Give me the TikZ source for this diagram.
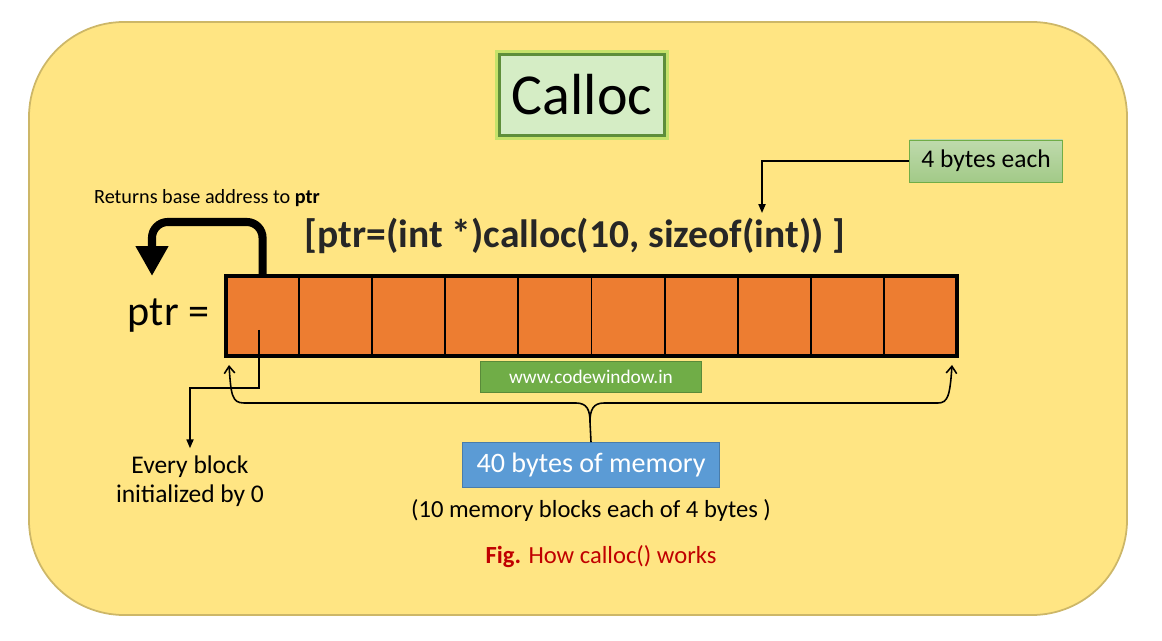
\documentclass[tikz,border=0pt]{standalone}
\usepackage{fontspec}
\setmainfont{Carlito}
\definecolor{memyellow}{HTML}{FFE583}
\definecolor{memedge}{HTML}{CDB768}
\definecolor{memorange}{HTML}{ED7D31}
\definecolor{memgreen}{HTML}{70AD47}
\definecolor{memblue}{HTML}{5B9BD5}
\definecolor{memred}{HTML}{C00000}
\definecolor{titlefill}{HTML}{D5EDC5}
\definecolor{titleedge}{HTML}{5E8E3A}
\definecolor{titleglow}{HTML}{C6E26A}
\definecolor{codegray}{HTML}{262626}
\usetikzlibrary{arrows.meta,positioning,calc}

\begin{document}
\begin{tikzpicture}[
  x=0.02cm, y=-0.02cm,
  panel/.style={draw=memedge, fill=memyellow, line width=1pt, rounded corners=1.9cm},
  title/.style={draw=titleedge, fill=titlefill, line width=2.2pt,
    preaction={draw=titleglow, line width=5pt},
    minimum width=3.3cm, minimum height=1.62cm, font=\fontsize{33}{38}\selectfont},
  cell/.style={draw, fill=memorange, line width=1.1pt, minimum width=1.462cm,
    minimum height=1.6cm, inner sep=0pt, outer sep=0pt},
  tag/.style={draw=#1!80!black, fill=#1, text=white, inner sep=0pt},
  link/.style={-{Triangle[length=5pt,width=4pt]}, line width=0.9pt},
  barb/.style={{Straight Barb[length=4pt,width=6pt]}-{Straight Barb[length=4pt,width=6pt]}, line width=0.9pt},
  bigarrow/.style={-{Triangle[length=0.6cm,width=0.62cm]}, line width=4.6pt, rounded corners=9pt}
]
  \useasboundingbox (0,0) rectangle (1162,641);
  % Background panel
  \draw[panel] (29,22) rectangle (1127,615);

  \node[title] (title) at (582,95) {Calloc};

  % Memory blocks
  \foreach \i in {1,...,10}
    \node[cell] (c\i) at ({226+73.1*(\i-0.5)},316) {};
  \draw[line width=1.8pt] (c1.north west) rectangle (c10.south east);

  \node[font=\fontsize{24}{28}\selectfont, left=6pt of c1] (ptr) {ptr =};
  \node[font=\fontsize{22.5}{26}\selectfont\bfseries, text=codegray] (call) at (575,236)
    {[ptr=(int *)calloc(10, sizeof(int)) ]};
  \node[font=\fontsize{11.5}{13}\selectfont] (ret) at (207,198) {Returns base address to \textbf{ptr}};

  % Return arrow
  \coordinate (rettop) at (152,222);
  \coordinate (retend) at (152,276);
  \draw[bigarrow] (c1.north) |- (rettop) -- (retend);

  % Size tag
  \node[draw=memgreen, top color=memgreen!45!white, bottom color=memgreen!65!white,
    minimum width=3.06cm, minimum height=0.84cm, font=\fontsize{14.5}{17}\selectfont]
    (each) at (986,161) {4 bytes each};
  \coordinate (eachtip) at (762,213);
  \draw[link] (each.west) -| (eachtip);

  % First block value
  \node[align=center, inner sep=0pt, font=\fontsize{14.5}{16.5}\selectfont] (zero) at (190,481)
    {Every block\\initialized by 0};
  \coordinate (blk) at (259,330);
  \coordinate (blkbend) at (259,388);
  \draw[link] (blk) -- (blkbend) -| ([yshift=4pt]zero.north);

  % Site label
  \node[tag=memgreen, minimum width=4.42cm, minimum height=0.62cm,
    font=\fontsize{11}{13}\selectfont] (site) at (591,377) {www.codewindow.in};

  % Total size
  \node[tag=memblue, minimum width=5.14cm, minimum height=0.9cm,
    font=\fontsize{16}{19}\selectfont] (total) at (591,465) {40 bytes of memory};
  \node[font=\fontsize{14}{17}\selectfont, below=3pt of total] (blocks)
    {(10 memory blocks each of 4 bytes )};
  \node[font=\fontsize{14}{17}\selectfont, text=memred] (fig) at (601,557)
    {\textbf{Fig.} How calloc() works};

  % Brace under the blocks
  \coordinate (bl) at (229,365);
  \coordinate (br) at (952,365);
  \coordinate (bmid) at (590,422);
  \draw[barb] (bl) .. controls (231,395) and (232,403) .. (244,403) -- (576,403)
    .. controls (587,403) and (590,410) .. (bmid)
    .. controls (590,410) and (593,403) .. (604,403) -- (938,403)
    .. controls (948,403) and (950,395) .. (br);
  \draw[line width=0.9pt] (bmid) -- (total.north);
\end{tikzpicture}
\end{document}
